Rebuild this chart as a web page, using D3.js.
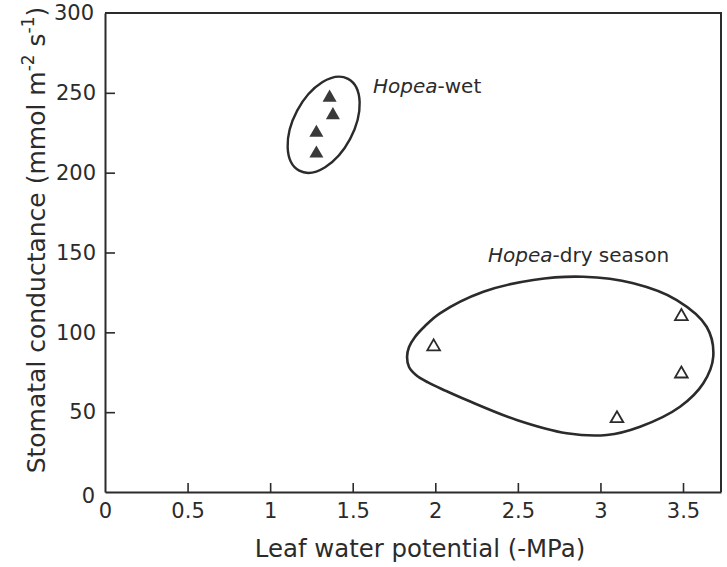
<!DOCTYPE html>
<html>
<head>
<meta charset="utf-8">
<script src="https://cdn.jsdelivr.net/npm/d3@7"></script>
<style>
  html, body { margin: 0; padding: 0; background: #ffffff; }
  svg { display: block; }
  text { font-family: "DejaVu Sans", "Liberation Sans", sans-serif; fill: #2b2b2b; }
</style>
</head>
<body>
<svg id="chart" width="727" height="567"></svg>
<script>
// ---- data ----
const xTicks = [0, 0.5, 1, 1.5, 2, 2.5, 3, 3.5];
const xTickLabels = ["0", "0.5", "1", "1.5", "2", "2.5", "3", "3.5"];
const yTicks = [0, 50, 100, 150, 200, 250, 300];
const yTickLabels = ["0", "50", "100", "150", "200", "250", "300"];

// Hopea - wet season (filled triangles)
const wetX = [1.36, 1.38, 1.28, 1.28];
const wetY = [247, 236, 225, 212];
// Hopea - dry season (open triangles)
const dryX = [1.99, 3.49, 3.49, 3.10];
const dryY = [91, 110, 74, 46];

// enclosure outlines in data units
const wetCenter = [1.324, 230];
const dryOutlineX = [1.829, 1.841, 1.877, 1.938, 2.028, 2.291, 2.593, 2.896, 3.199, 3.462, 3.643, 3.683, 3.623, 3.482, 3.240, 3.038, 2.796, 2.493, 2.190, 2.065, 1.956, 1.883, 1.841];
const dryOutlineY = [84.5, 90.8, 97.1, 104.0, 111.9, 125.4, 132.8, 134.8, 130.7, 120.2, 103.5, 84.7, 68.1, 53.4, 40.9, 35.7, 36.8, 45.1, 57.6, 63.3, 68.6, 73.3, 78.3];

const xLabel = "Leaf water potential (-MPa)";

// ---- chart ----
const svg = d3.select("#chart");
const ink = "#2b2b2b";
const font = "DejaVu Sans, Liberation Sans, sans-serif";
const x = d3.scaleLinear().domain([0, 3.73]).range([105, 721]);
const y = d3.scaleLinear().domain([0, 300]).range([492, 13]);

// frame (top + right)
svg.append("path")
  .attr("d", `M${x(0)},${y(300)}H${x(3.73)}V${y(0)}`)
  .attr("fill", "none").attr("stroke", ink).attr("stroke-width", 2);

// x axis
const gx = svg.append("g").attr("transform", `translate(0,${y(0)})`)
  .call(d3.axisBottom(x).tickValues(xTicks)
    .tickFormat((d, i) => xTickLabels[i])
    .tickSizeInner(-9).tickSizeOuter(0).tickPadding(11));
gx.select(".domain").attr("stroke", ink).attr("stroke-width", 2);
gx.selectAll(".tick line").attr("stroke", ink).attr("stroke-width", 1.6);
gx.selectAll(".tick text").attr("font-size", 21).attr("fill", ink).attr("font-family", font);
gx.selectAll(".tick").filter(d => d === 0).select("line").remove();

// y axis
const gy = svg.append("g").attr("transform", `translate(${x(0)},0)`)
  .call(d3.axisLeft(y).tickValues(yTicks)
    .tickFormat((d, i) => yTickLabels[i])
    .tickSizeInner(-10).tickSizeOuter(0).tickPadding(9));
gy.select(".domain").attr("stroke", ink).attr("stroke-width", 2);
gy.selectAll(".tick line").attr("stroke", ink).attr("stroke-width", 1.6);
gy.selectAll(".tick text").attr("font-size", 21).attr("fill", ink).attr("font-family", font);
gy.selectAll(".tick").filter(d => d === 0 || d === 300).select("line").remove();
gy.selectAll(".tick").filter(d => d === 0).select("text").attr("dy", "0.5em").attr("x", -10);
gy.selectAll(".tick").filter(d => d === 300).select("text").attr("x", -11);

// axis titles
svg.append("text")
  .attr("x", 420).attr("y", 557)
  .attr("text-anchor", "middle").attr("font-size", 24.4)
  .text(xLabel);

const yl = svg.append("text")
  .attr("transform", `translate(45,${240}) rotate(-90)`)
  .attr("text-anchor", "middle").attr("font-size", 25);
yl.append("tspan").text("Stomatal conductance (mmol m");
yl.append("tspan").attr("dy", -11).attr("font-size", 17).text("-2");
yl.append("tspan").attr("dy", 11).text(" s");
yl.append("tspan").attr("dy", -11).attr("font-size", 17).text("-1");
yl.append("tspan").attr("dy", 11).text(")");

// enclosures
svg.append("ellipse")
  .attr("cx", 0).attr("cy", 0).attr("rx", 52).attr("ry", 30)
  .attr("transform", `translate(${x(wetCenter[0])},${y(wetCenter[1])}) rotate(-62)`)
  .attr("fill", "none").attr("stroke", ink).attr("stroke-width", 2.4);

const dryPts = dryOutlineX.map((d, i) => [x(d), y(dryOutlineY[i])]);
svg.append("path")
  .attr("d", d3.line().curve(d3.curveCatmullRomClosed.alpha(0.5))(dryPts))
  .attr("fill", "none").attr("stroke", ink).attr("stroke-width", 2.6);

// triangles
const tri = d3.symbol().type(d3.symbolTriangle);
svg.append("g").selectAll("path")
  .data(wetX.map((d, i) => [d, wetY[i]]))
  .join("path")
  .attr("d", tri.size(85)())
  .attr("transform", d => `translate(${x(d[0])},${y(d[1])})`)
  .attr("fill", "#3a3a3a");

svg.append("g").selectAll("path")
  .data(dryX.map((d, i) => [d, dryY[i]]))
  .join("path")
  .attr("d", tri.size(70)())
  .attr("transform", d => `translate(${x(d[0])},${y(d[1])})`)
  .attr("fill", "none").attr("stroke", ink).attr("stroke-width", 1.8);

// annotations
const tw = svg.append("text").attr("x", 373).attr("y", 93).attr("font-size", 20);
tw.append("tspan").attr("font-style", "italic").text("Hopea");
tw.append("tspan").text("-wet");

const td = svg.append("text").attr("x", 488).attr("y", 262).attr("font-size", 20);
td.append("tspan").attr("font-style", "italic").text("Hopea");
td.append("tspan").text("-dry season");
</script>
</body>
</html>
